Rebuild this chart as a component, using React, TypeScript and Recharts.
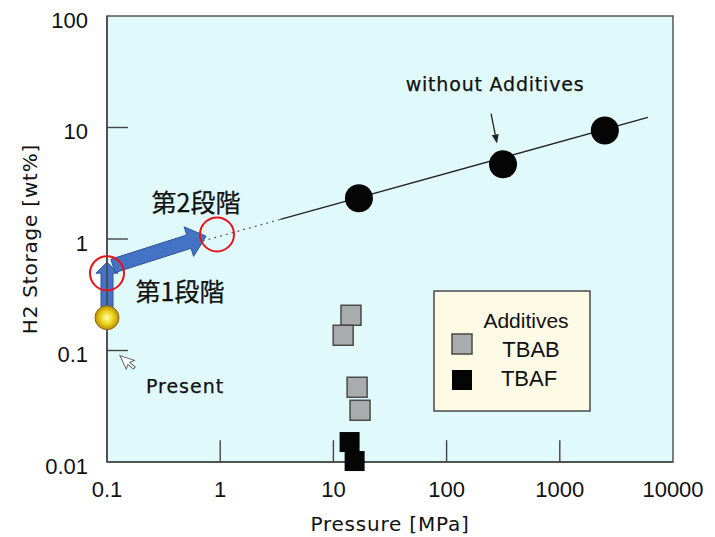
import React from "react";
import {
  ComposedChart, XAxis, YAxis, Line, Scatter, ReferenceLine, ReferenceDot,
  ReferenceArea, CartesianGrid, Legend,
} from "recharts";

const xTicks = [0.1, 1, 10, 100, 1000, 10000];
const yTicks = [0.01, 0.1, 1, 10, 100];
const innerXTicks = [1, 10, 100, 1000];
const innerYTicks = [0.1, 1, 10];

const noAddP = [16.8, 315, 2500];
const noAddS = [2.32, 4.67, 9.4];
const trendDotP = [0.7, 3.4];
const trendDotS = [0.96, 1.5];
const trendSolidP = [3.4, 6000];
const trendSolidS = [1.5, 12.3];
const presentP = [0.1];
const presentS = [0.197];
const tbabP = [14.3, 12.2, 16.2, 17.2];
const tbabS = [0.207, 0.137, 0.0468, 0.0291];
const tbafP = [13.9, 15.4];
const tbafS = [0.0151, 0.0102];

const pts = (xs: number[], ys: number[]) => xs.map((x, i) => ({ x, y: ys[i] }));

const SANS = "'DejaVu Sans', sans-serif";
const ARIAL = "'Liberation Sans', Arial, sans-serif";
const JP = "'Noto Sans CJK JP', sans-serif";
const INK = "#111";

function arrowPoly(x1: number, y1: number, x2: number, y2: number, sw: number, hw: number, hl: number) {
  const dx = x2 - x1, dy = y2 - y1;
  const len = Math.sqrt(dx * dx + dy * dy) || 1;
  const ux = dx / len, uy = dy / len;
  const nx = -uy, ny = ux;
  const bx = x2 - ux * hl, by = y2 - uy * hl;
  const p = [
    [x1 + nx * sw / 2, y1 + ny * sw / 2],
    [bx + nx * sw / 2, by + ny * sw / 2],
    [bx + nx * hw / 2, by + ny * hw / 2],
    [x2, y2],
    [bx - nx * hw / 2, by - ny * hw / 2],
    [bx - nx * sw / 2, by - ny * sw / 2],
    [x1 - nx * sw / 2, y1 - ny * sw / 2],
  ];
  return p.map((q) => q.join(",")).join(" ");
}

const blueArrow = (sw: number, hw: number, hl: number) => (p: any) => (
  <polygon
    points={arrowPoly(p.x1, p.y1, p.x2, p.y2, sw, hw, hl)}
    fill="#4472c4"
    stroke="#2f5597"
    strokeWidth={1}
  />
);

const thinArrow = (p: any) => {
  const dx = p.x2 - p.x1, dy = p.y2 - p.y1;
  const len = Math.sqrt(dx * dx + dy * dy) || 1;
  const ux = dx / len, uy = dy / len;
  const bx = p.x2 - ux * 9, by = p.y2 - uy * 9;
  return (
    <g>
      <line x1={p.x1} y1={p.y1} x2={bx} y2={by} stroke="#222" strokeWidth={1.3} />
      <polygon
        points={`${p.x2},${p.y2} ${bx - uy * 3.5},${by + ux * 3.5} ${bx + uy * 3.5},${by - ux * 3.5}`}
        fill="#222"
      />
    </g>
  );
};

const textShape = (txt: string, size: number, family: string, spacing = 0) => (p: any) => (
  <text
    x={p.cx}
    y={p.cy}
    textAnchor="middle"
    dominantBaseline="central"
    fontSize={size}
    fontFamily={family}
    letterSpacing={spacing}
    fill={INK}
    stroke={INK}
    strokeWidth={0.25}
  >
    {txt}
  </text>
);

const cursorShape = (p: any) => (
  <path
    transform={`translate(${p.cx},${p.cy}) rotate(-25)`}
    d="M0,0 L0,15 L3.5,11.5 L6.5,18 L9,17 L6,10.5 L11,10.5 Z"
    fill="#fff"
    stroke="#666"
    strokeWidth={1}
  />
);

const tickLineShape = (p: any) => (
  <line x1={p.x1} y1={p.y1} x2={p.x2} y2={p.y2} stroke="#444" strokeWidth={1.4} />
);

const circleShape = (p: any) => <circle cx={p.cx} cy={p.cy} r={14} fill="#050505" />;
const goldShape = (p: any) => (
  <g>
    <defs>
      <radialGradient id="goldGrad" cx="50%" cy="50%" r="55%">
        <stop offset="0%" stopColor="#ffffb0" />
        <stop offset="45%" stopColor="#f0d820" />
        <stop offset="100%" stopColor="#b08008" />
      </radialGradient>
    </defs>
    <circle cx={p.cx} cy={p.cy} r={12} fill="url(#goldGrad)" stroke="#8a6a10" strokeWidth={1} />
  </g>
);
const greySquare = (p: any) => (
  <rect x={p.cx - 10} y={p.cy - 10} width={20} height={20} fill="#a8acac" stroke="#4a4a4a" strokeWidth={1.5} />
);
const blackSquare = (p: any) => (
  <rect x={p.cx - 10} y={p.cy - 10} width={20} height={20} fill="#050505" />
);

const LegendBox = () => (
  <svg width={158} height={122} style={{ display: "block" }}>
    <rect x={1} y={1} width={156} height={120} fill="#fdfbe6" stroke="#4a4a4a" strokeWidth={1.5} />
    <text x={93} y={30} textAnchor="middle" dominantBaseline="central" fontSize={21} fontFamily={ARIAL} fill={INK}>Additives</text>
    <rect x={19} y={44} width={20} height={20} fill="#a8acac" stroke="#4a4a4a" strokeWidth={1.5} />
    <text x={98} y={59} textAnchor="middle" dominantBaseline="central" fontSize={22} fontFamily={ARIAL} fill={INK}>TBAB</text>
    <rect x={19} y={80} width={20} height={20} fill="#050505" />
    <text x={96} y={88} textAnchor="middle" dominantBaseline="central" fontSize={22} fontFamily={ARIAL} fill={INK}>TBAF</text>
  </svg>
);

export default function App() {
  return (
    <ComposedChart
      width={700}
      height={529}
      margin={{ top: 8, right: 35, bottom: 15, left: 19 }}
    >
      <CartesianGrid horizontal={false} vertical={false} fill="#e0f9fb" />
      <XAxis
        dataKey="x"
        type="number"
        scale="log"
        domain={[0.1, 10000]}
        ticks={xTicks}
        tickFormatter={(v: number) => String(v)}
        tickLine={false}
        tickSize={0}
        tickMargin={19}
        height={60}
        axisLine={{ stroke: "#444", strokeWidth: 1.5 }}
        tick={{ fontSize: 22, fontFamily: ARIAL, fill: INK }}
        interval={0}
        label={{
          value: "Pressure [MPa]",
          position: "center",
          dy: 32,
          style: { fontSize: 20, fontFamily: SANS, letterSpacing: 0.8, fill: INK },
        }}
      />
      <YAxis
        dataKey="y"
        type="number"
        scale="log"
        domain={[0.01, 100]}
        ticks={yTicks}
        tickFormatter={(v: number) => String(v)}
        tickLine={false}
        tickSize={0}
        tickMargin={19}
        width={80}
        interval={0}
        axisLine={{ stroke: "#444", strokeWidth: 1.5 }}
        tick={{ fontSize: 22, fontFamily: ARIAL, fill: INK, dy: 4 }}
        label={{
          value: "H2 Storage [wt%]",
          angle: -90,
          position: "center",
          dx: -37,
          style: { fontSize: 20, fontFamily: SANS, letterSpacing: 0.8, fill: INK, textAnchor: "middle" },
        }}
      />
      <ReferenceArea x1={0.1} x2={10000} y1={0.01} y2={100} fill="none" stroke="#555" strokeWidth={1.5} />
      {innerXTicks.map((t) => (
        <ReferenceLine key={"xt" + t} segment={[{ x: t, y: 0.01 }, { x: t, y: 0.0157 }]} shape={tickLineShape} />
      ))}
      {innerYTicks.map((t) => (
        <ReferenceLine key={"yt" + t} segment={[{ x: 0.1, y: t }, { x: 0.153, y: t }]} shape={tickLineShape} />
      ))}
      <Line
        data={pts(trendDotP, trendDotS)}
        dataKey="y"
        stroke="#666"
        strokeWidth={1.3}
        strokeDasharray="2 4"
        dot={false}
        isAnimationActive={false}
        legendType="none"
      />
      <Line
        data={pts(trendSolidP, trendSolidS)}
        dataKey="y"
        stroke="#222"
        strokeWidth={1.3}
        dot={false}
        isAnimationActive={false}
        legendType="none"
      />
      <ReferenceLine segment={[{ x: 0.1, y: 0.237 }, { x: 0.1, y: 0.62 }]} shape={blueArrow(12, 22, 11)} />
      <ReferenceLine segment={[{ x: 0.113, y: 0.574 }, { x: 0.75, y: 1.06 }]} shape={blueArrow(14, 31, 18)} />
      <ReferenceLine segment={[{ x: 247, y: 13.3 }, { x: 279, y: 7.2 }]} shape={thinArrow} />
      <Scatter name="without Additives" data={pts(noAddP, noAddS)} shape={circleShape} isAnimationActive={false} />
      <Scatter name="Present" data={pts(presentP, presentS)} shape={goldShape} isAnimationActive={false} />
      <Scatter name="TBAB" data={pts(tbabP, tbabS)} shape={greySquare} isAnimationActive={false} />
      <Scatter name="TBAF" data={pts(tbafP, tbafS)} shape={blackSquare} isAnimationActive={false} />
      <ReferenceDot x={0.1} y={0.492} r={17} fill="none" stroke="#e8141c" strokeWidth={2} />
      <ReferenceDot x={0.937} y={1.1} r={17} fill="none" stroke="#e8141c" strokeWidth={2} />
      <ReferenceDot x={0.611} y={2.18} r={1} shape={textShape("第2段階", 25, JP)} />
      <ReferenceDot x={0.441} y={0.35} r={1} shape={textShape("第1段階", 25, JP)} />
      <ReferenceDot x={0.489} y={0.0477} r={1} shape={textShape("Present", 19, SANS, 1)} />
      <ReferenceDot x={268} y={24.7} r={1} shape={textShape("without Additives", 19, SANS, 0.8)} />
      <ReferenceDot x={0.13} y={0.0902} r={1} shape={cursorShape} />
      <Legend
        layout="vertical"
        align="center"
        verticalAlign="middle"
        content={() => <LegendBox />}
        wrapperStyle={{ position: "absolute", left: 425, top: 282, width: 158, height: 122 }}
      />
    </ComposedChart>
  );
}
